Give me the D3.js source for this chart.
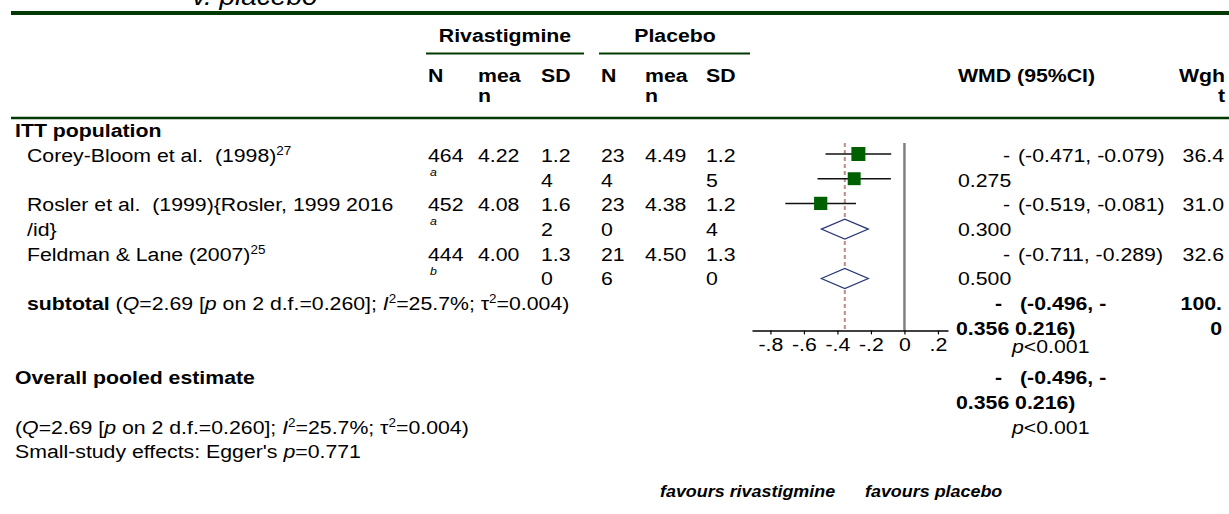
<!DOCTYPE html>
<html>
<head>
<meta charset="utf-8">
<script src="https://cdn.jsdelivr.net/npm/d3@7"></script>
<style>
  body { margin: 0; background: #fff; }
  svg text { font-family: "Liberation Sans", Arial, sans-serif; fill: #000; white-space: pre; }
</style>
</head>
<body>
<div id="chart"></div>
<script>
// data
const studies = ["Corey-Bloom et al.  (1998)", "Rosler et al.  (1999){Rosler, 1999 2016", "Feldman & Lane (2007)"];
const studyLine2 = ["", "/id}", ""];
const studyRefs = ["27", "", "25"];
const rivN = ["464", "452", "444"];
const rivNote = ["a", "a", "b"];
const rivMean = ["4.22", "4.08", "4.00"];
const rivSD = ["1.24", "1.62", "1.30"];
const plaN = ["234", "230", "216"];
const plaMean = ["4.49", "4.38", "4.50"];
const plaSD = ["1.25", "1.24", "1.30"];
const wmd = [-0.275, -0.300, -0.500];
const ciLo = [-0.471, -0.519, -0.711];
const ciHi = [-0.079, -0.081, -0.289];
const weights = [36.4, 31.0, 32.6];
const pooled = -0.356, pooledLo = -0.496, pooledHi = -0.216;
const squareRows = [0, 1, 2];
const diamondRows = [3, 5];
const tickValues = [-0.8, -0.6, -0.4, -0.2, 0, 0.2];
const tickLabels = ["-.8", "-.6", "-.4", "-.2", "0", ".2"];

const W = 1229, H = 514;
const FS = 19, SX = 1.12;
const green = "#033a03";

const svg = d3.select("#chart").append("svg").attr("width", W).attr("height", H);

// rows of the table
const yRow = d3.scaleLinear().domain([0, 1]).range([155, 179.7]);
const base = k => yRow(k) + 6.8;

// x scale of the plot
const x = d3.scaleLinear().domain([-0.91, 0.26]).range([752, 948]);

// text helper, glyphs a bit wider than Arial
function put(x0, y0, s, o = {}) {
  const t = svg.append("text")
    .attr("transform", `translate(${x0},${y0}) scale(${o.sx || SX},1)`)
    .attr("text-anchor", o.anchor || "start")
    .style("font-size", (o.size || FS) + "px")
    .style("font-weight", o.bold ? "bold" : null)
    .style("font-style", o.italic ? "italic" : null);
  if (Array.isArray(s)) {
    s.forEach(p => {
      const ts = t.append("tspan").text(p.t);
      if (p.b) ts.style("font-weight", "bold");
      if (p.i) ts.style("font-style", "italic");
      if (p.sup) ts.attr("dy", -7).style("font-size", "12px");
      if (p.down) ts.attr("dy", 7);
    });
  } else t.text(s);
  return t;
}

// title (cut by the top edge, as in the source)
put(192, 5, "v. placebo", { italic: true, size: 25 });

// green rules
svg.append("line").attr("x1", 11).attr("x2", W).attr("y1", 13).attr("y2", 13)
  .attr("stroke", green).attr("stroke-width", 4);
svg.append("line").attr("x1", 11).attr("x2", W).attr("y1", 118).attr("y2", 118)
  .attr("stroke", green).attr("stroke-width", 2.5);
svg.append("line").attr("x1", 426).attr("x2", 584).attr("y1", 53.5).attr("y2", 53.5)
  .attr("stroke", green).attr("stroke-width", 2);
svg.append("line").attr("x1", 599).attr("x2", 750).attr("y1", 53.5).attr("y2", 53.5)
  .attr("stroke", green).attr("stroke-width", 2);

// header
put(505, 42, "Rivastigmine", { bold: true, anchor: "middle" });
put(675, 42, "Placebo", { bold: true, anchor: "middle" });
const colX = { rN: 428, rM: 478, rS: 541, pN: 601, pM: 645, pS: 706 };
[["N", colX.rN], ["mea", colX.rM], ["SD", colX.rS], ["N", colX.pN], ["mea", colX.pM], ["SD", colX.pS]]
  .forEach(d => put(d[1], 82, d[0], { bold: true }));
put(colX.rM, 102, "n", { bold: true });
put(colX.pM, 102, "n", { bold: true });
put(958, 82, "WMD (95%CI)", { bold: true });
put(1225, 82, "Wgh", { bold: true, anchor: "end" });
put(1225, 102, "t", { bold: true, anchor: "end" });

// group label
put(15, 137, "ITT population", { bold: true });

// study rows
studies.forEach((s, i) => {
  const k = i * 2;
  put(27, base(k), studyRefs[i] ? [{ t: s }, { t: studyRefs[i], sup: true }] : s);
  if (studyLine2[i]) put(27, base(k + 1), studyLine2[i]);
  put(colX.rN, base(k), rivN[i]);
  put(colX.rN + 2, base(k) + 14, rivNote[i], { italic: true, size: 11 });
  put(colX.rM, base(k), rivMean[i]);
  put(colX.rS, base(k), rivSD[i].slice(0, 3));
  put(colX.rS, base(k + 1), rivSD[i].slice(3));
  put(colX.pN, base(k), plaN[i].slice(0, 2));
  put(colX.pN, base(k + 1), plaN[i].slice(2));
  put(colX.pM, base(k), plaMean[i]);
  put(colX.pS, base(k), plaSD[i].slice(0, 3));
  put(colX.pS, base(k + 1), plaSD[i].slice(3));
  put(1003, base(k), "-");
  put(1018, base(k), `(${ciLo[i].toFixed(3)}, ${ciHi[i].toFixed(3)})`);
  put(958, base(k + 1), Math.abs(wmd[i]).toFixed(3));
  put(1224, base(k), weights[i].toFixed(1), { anchor: "end" });
});

// heterogeneity text
const het = [
  { t: "(" }, { t: "Q", i: true }, { t: "=2.69 [" }, { t: "p", i: true },
  { t: " on 2 d.f.=0.260]; " }, { t: "I", i: true }, { t: "2", sup: true },
  { t: "=25.7%; τ", down: true }, { t: "2", sup: true }, { t: "=0.004)", down: true }
];

// subtotal
put(27, base(6), [{ t: "subtotal ", b: true }].concat(het));
put(995, base(6), "-", { bold: true });
put(1020, base(6), `(${pooledLo.toFixed(3)}, -`, { bold: true });
put(956, base(7), `${Math.abs(pooled).toFixed(3)} ${Math.abs(pooledHi).toFixed(3)})`, { bold: true });
put(1222, base(6), "100.", { bold: true, anchor: "end" });
put(1222, base(7), "0", { bold: true, anchor: "end" });
put(1012, base(8) - 6, [{ t: "p", i: true }, { t: "<0.001" }]);

// overall
put(15, base(9), "Overall pooled estimate", { bold: true });
put(995, base(9), "-", { bold: true });
put(1020, base(9), `(${pooledLo.toFixed(3)}, -`, { bold: true });
put(956, base(10), `${Math.abs(pooled).toFixed(3)} ${Math.abs(pooledHi).toFixed(3)})`, { bold: true });
put(15, base(11), het);
put(1012, base(11), [{ t: "p", i: true }, { t: "<0.001" }]);
put(15, base(12), [{ t: "Small-study effects: Egger's " }, { t: "p", i: true }, { t: "=0.771" }]);

// favours
put(660, 497, "favours rivastigmine", { bold: true, italic: true, size: 16 });
put(865, 497, "favours placebo", { bold: true, italic: true, size: 16 });

// forest plot
const axisY = yRow(7) + 2.5;
const topY = yRow(0) - 12;

svg.append("line").attr("x1", x(0)).attr("x2", x(0)).attr("y1", topY).attr("y2", axisY)
  .attr("stroke", "#808080").attr("stroke-width", 2.5);
svg.append("line").attr("x1", x(pooled)).attr("x2", x(pooled)).attr("y1", topY).attr("y2", axisY)
  .attr("stroke", "#c48a8a").attr("stroke-width", 2).attr("stroke-dasharray", "4,3");

const sz = d3.scaleSqrt().domain([0, 36.4]).range([0, 14]);
const g = svg.append("g");
wmd.forEach((v, i) => {
  const cy = yRow(squareRows[i]) - 1;
  g.append("line").attr("x1", x(ciLo[i])).attr("x2", x(ciHi[i])).attr("y1", cy).attr("y2", cy)
    .attr("stroke", "#111").attr("stroke-width", 1.5);
  const s = sz(weights[i]);
  g.append("rect").attr("x", x(v) - s / 2).attr("y", cy - s / 2).attr("width", s).attr("height", s)
    .attr("fill", "#006000");
});
diamondRows.forEach(r => {
  const cy = yRow(r);
  const pts = [[x(pooledLo), cy], [x(pooled), cy - 10], [x(pooledHi), cy], [x(pooled), cy + 10]];
  g.append("polygon").attr("points", pts.map(p => p.join(",")).join(" "))
    .attr("fill", "#fff").attr("stroke", "#2b3a78").attr("stroke-width", 1.3);
});

const axis = d3.axisBottom(x).tickValues(tickValues)
  .tickFormat((d, i) => tickLabels[i]).tickSizeInner(4).tickSizeOuter(0).tickPadding(3);
const ga = svg.append("g").attr("transform", `translate(0,${axisY})`).call(axis);
ga.select(".domain").attr("stroke", "#000").attr("stroke-width", 1.5);
ga.selectAll(".tick line").attr("stroke", "#000").attr("stroke-width", 1.2);
ga.selectAll(".tick text").style("font-size", FS + "px").attr("fill", "#000")
  .attr("font-family", null).attr("transform", `scale(${SX},1)`);
ga.attr("font-family", null).attr("font-size", null);
</script>
</body>
</html>
